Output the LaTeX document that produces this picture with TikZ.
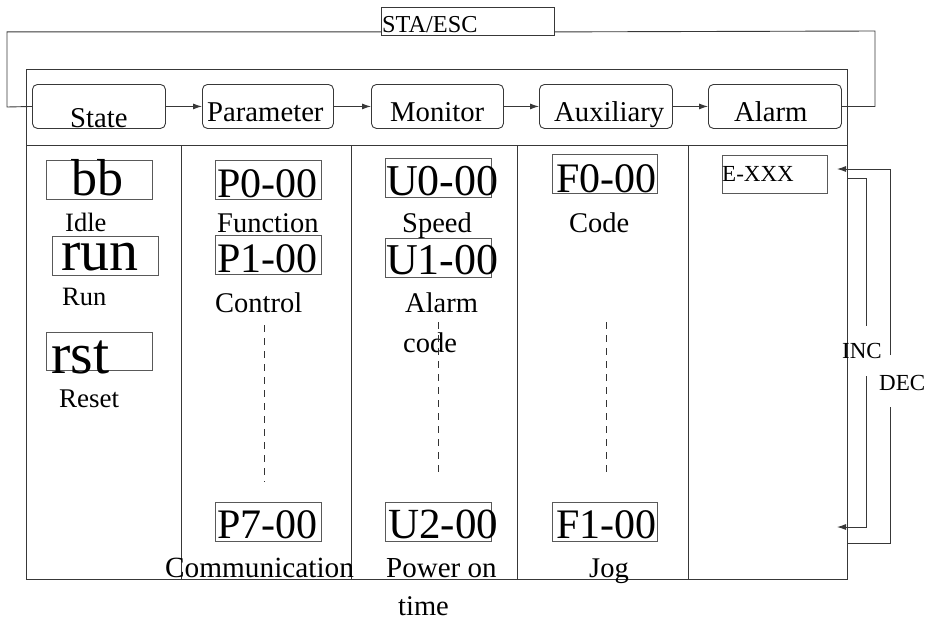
\documentclass[tikz,border=0pt]{standalone}
\usepackage{fontspec}
\setmainfont{Liberation Serif}
\usetikzlibrary{arrows.meta}
\tikzset{
  ln/.style={draw=black!78, line width=0.9pt},
  hbox/.style={ln, rounded corners=5pt, inner sep=0pt, anchor=north west, minimum height=44pt},
  vbox/.style={draw=black!65, line width=0.9pt, inner sep=0pt, anchor=north west, minimum width=106pt, minimum height=39pt},
  txt/.style={inner sep=0pt, anchor=base west, text depth=0pt},
  hd/.style={txt, font=\fontsize{28.7}{30}\selectfont},
  lbl/.style={txt, font=\fontsize{28.5}{30}\selectfont},
  big/.style={txt, font=\fontsize{42}{44}\selectfont},
  huge/.style={txt, font=\fontsize{56}{58}\selectfont},
  sml/.style={txt, font=\fontsize{23}{25}\selectfont},
  dsh/.style={draw=black!80, line width=0.7pt, dash pattern=on 7pt off 6pt},
  arr/.style={ln, -{Latex[length=9pt,width=6pt]}}
}
\begin{document}
\begin{tikzpicture}[x=1pt,y=-1pt]
\useasboundingbox (0,0) rectangle (936,622);
% outer frame
\node[ln, inner sep=0pt, anchor=north west, minimum width=821pt, minimum height=510pt] (frame) at (26,69) {};
\draw[ln] (26,145) -- (847,145);
\foreach \xx in {181,351,517,688} \draw[ln] (\xx,145) -- (\xx,579);
% STA/ESC
\node[ln, inner sep=0pt, anchor=north west, minimum width=173pt, minimum height=28pt] (sta) at (381,7) {};
\node[sml, font=\fontsize{24.3}{26}\selectfont] (statxt) at (382,32) {STA/ESC};
% header boxes
\node[hbox, minimum width=133pt] (state) at (32,84) {};
\node[hbox, minimum width=131pt] (param) at (202,84) {};
\node[hbox, minimum width=132pt] (monit) at (371,84) {};
\node[hbox, minimum width=133pt] (aux) at (539,84) {};
\node[hbox, minimum width=133pt] (alarm) at (708,84) {};
\node[hd] (tstate) at (70,127) {State};
\node[hd] (tparam) at (207,121) {Parameter};
\node[hd] (tmonit) at (390,121) {Monitor};
\node[hd] (taux) at (554,121) {Auxiliary};
\node[hd] (talarm) at (734,121) {Alarm};
\draw[arr] (state.east) -- (param.west);
\draw[arr] (param.east) -- (monit.west);
\draw[arr] (monit.east) -- (aux.west);
\draw[arr] (aux.east) -- (alarm.west);
% loop
\draw[ln] ([yshift=4pt]sta.south west) -| (7,107) -- (state.west);
\draw[ln] (alarm.east) -| (875,31) -- ([yshift=4pt]sta.south east);
% State column
\node[vbox] (bbbox) at (46,160) {};
\node[huge, font=\fontsize{52}{54}\selectfont] (bb) at (71,195) {bb};
\node[lbl, font=\fontsize{26.5}{28}\selectfont] (idle) at (65,231) {Idle};
\node[vbox] (runbox) at (52,236) {};
\node[huge, font=\fontsize{58}{60}\selectfont, text height=30pt] (run) at (61,270) {run};
\node[lbl, font=\fontsize{26.5}{28}\selectfont] (runl) at (62,305) {Run};
\node[vbox, minimum height=38pt] (rstbox) at (46,332) {};
\node[huge, font=\fontsize{58}{60}\selectfont] (rst) at (51,373) {rst};
\node[lbl, font=\fontsize{27}{28}\selectfont] (reset) at (59,407) {Reset};
% Parameter column
\node[vbox] (p0box) at (215,160) {};
\node[big] (p0) at (217,197) {P0-00};
\node[lbl] (func) at (217,232) {Function};
\node[vbox] (p1box) at (215,235) {};
\node[big] (p1) at (217,272) {P1-00};
\node[lbl] (ctrl) at (215,312) {Control};
\node[vbox] (p7box) at (215,502) {};
\node[big] (p7) at (217,538) {P7-00};
\node[lbl, font=\fontsize{29.3}{31}\selectfont] (comm) at (165,577) {Communication};
\draw[dsh] (264,325) -- (264,482);
% Monitor column
\node[vbox] (u0box) at (385,158) {};
\node[big, font=\fontsize{44}{46}\selectfont] (u0) at (386,195) {U0-00};
\node[lbl] (speed) at (402,232) {Speed};
\node[vbox] (u1box) at (385,238) {};
\node[big, font=\fontsize{44}{46}\selectfont] (u1) at (386,274) {U1-00};
\node[lbl] (alarmc) at (405,312) {Alarm};
\node[lbl] (code) at (403,352) {code};
\node[vbox] (u2box) at (385,502) {};
\node[big, font=\fontsize{43}{45}\selectfont] (u2) at (388,538) {U2-00};
\node[lbl, font=\fontsize{29}{31}\selectfont] (power) at (386,577) {Power on};
\node[lbl] (time) at (398,615) {time};
\draw[dsh] (438,322) -- (438,477);
% Auxiliary column
\node[vbox, minimum width=105pt] (f0box) at (552,154) {};
\node[big] (f0) at (556,192) {F0-00};
\node[lbl] (codel) at (569,232) {Code};
\node[vbox, minimum width=105pt] (f1box) at (552,502) {};
\node[big] (f1) at (556,538) {F1-00};
\node[lbl] (jog) at (589,577) {Jog};
\draw[dsh] (606,322) -- (606,478);
% Alarm column
\node[vbox, minimum width=105pt, minimum height=38pt] (ebox) at (722,155) {};
\node[sml] (exxx) at (722,181) {E-XXX};
% INC / DEC
\coordinate (incA) at (847,178);
\coordinate (incB) at (837,527);
\coordinate (decA) at (847,543);
\coordinate (decB) at (837,169);
\node[sml] (inc) at (842,358) {INC};
\node[sml] (dec) at (879,390) {DEC};
\draw[ln] (incA) -- (866,178) -- (866,326);
\draw[arr] (866,376) -- (866,527) -- (incB);
\draw[ln] (decA) -- (890,543) -- (890,407);
\draw[arr] (890,355) -- (890,169) -- (decB);
\end{tikzpicture}
\end{document}
